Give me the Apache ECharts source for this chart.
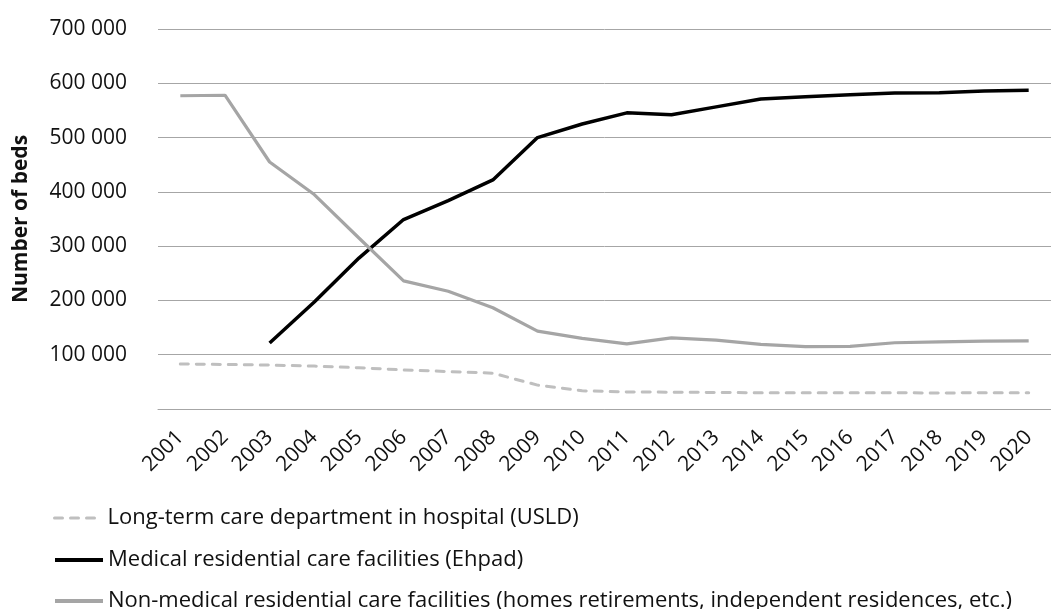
<!DOCTYPE html>
<html>
<head>
<meta charset="utf-8">
<script src="https://cdn.jsdelivr.net/npm/echarts@6/dist/echarts.min.js"></script>
<style>
  html, body { margin: 0; padding: 0; background: #fff; }
  #chart { width: 1051px; height: 609px; }
</style>
</head>
<body>
<div id="chart"></div>
<script>
const years = ["2001", "2002", "2003", "2004", "2005", "2006", "2007", "2008", "2009", "2010",
  "2011", "2012", "2013", "2014", "2015", "2016", "2017", "2018", "2019", "2020"];

// USLD beds
const usld = [83000, 82000, 81000, 79000, 76000, 72000, 69000, 66000, 44000, 33500,
  31500, 31000, 30500, 30000, 30000, 30000, 30000, 29500, 30000, 30000];

// Ehpad beds (no data before 2003)
const ehpad = [null, null, 121500, 197000, 278000, 349000, 384000, 422000, 500000, 525000,
  545500, 542000, 556500, 571000, 575000, 579000, 582000, 582500, 586000, 587000];

// non-medical residential care
const nonMedical = [577000, 578000, 455000, 395000, 315000, 236000, 217000, 186500, 143500, 130000,
  120000, 131000, 127000, 119000, 115000, 115500, 122000, 123500, 125000, 125500];

const seriesNames = [
  "Long-term care department in hospital (USLD)",
  "Medical residential care facilities (Ehpad)",
  "Non-medical residential care facilities (homes retirements, independent residences, etc.)"
];

const font = "'Open Sans', sans-serif";

// one legend per row, stacked like the original
const legendRow = (name, top, width) => ({
  orient: "vertical",
  left: 53,
  top: top,
  padding: 0,
  itemWidth: 48,
  itemHeight: 14,
  itemStyle: { color: "transparent", borderWidth: 0 },
  lineStyle: { width: width },
  textStyle: { fontFamily: font, fontSize: 22, color: "#111" },
  data: [name]
});

const option = {
  animation: false,
  grid: {
    left: 158,
    top: 29,
    width: 908,   // last band runs past the right edge like the original
    bottom: 200
  },
  legend: [
    legendRow(seriesNames[0], 507, 3),
    legendRow(seriesNames[1], 549, 4),
    legendRow(seriesNames[2], 590, 4)
  ],
  xAxis: {
    type: "category",
    data: years,
    boundaryGap: true,
    axisLine: { show: true, lineStyle: { color: "#a6a6a6", width: 1 } },
    axisTick: { show: false },
    axisLabel: {
      interval: 0,
      rotate: 45,
      margin: 25,
      fontFamily: font,
      fontSize: 21,
      color: "#111"
    }
  },
  yAxis: {
    type: "value",
    min: 0,
    max: 700000,
    interval: 100000,
    name: "Number of beds",
    nameLocation: "middle",
    nameGap: 126,
    nameTextStyle: { fontFamily: font, fontSize: 21, fontWeight: "bold", color: "#111" },
    axisLine: { show: false },
    axisTick: { show: false },
    splitLine: { lineStyle: { color: "#a6a6a6", width: 1 } },
    axisLabel: {
      margin: 31,
      fontFamily: font,
      fontSize: 21,
      color: "#111",
      formatter: function (v) {
        if (v === 0) return "";
        return String(v).replace(/\B(?=(\d{3})+(?!\d))/g, " ");
      }
    }
  },
  series: [
    {
      name: seriesNames[0],
      type: "line",
      symbol: "none",
      data: usld,
      itemStyle: { color: "#bfbfbf" },
      lineStyle: { color: "#bfbfbf", width: 3, type: [8, 8], cap: "round" }
    },
    {
      name: seriesNames[1],
      type: "line",
      symbol: "none",
      data: ehpad,
      itemStyle: { color: "#000" },
      lineStyle: { color: "#000", width: 3.5 }
    },
    {
      name: seriesNames[2],
      type: "line",
      symbol: "none",
      data: nonMedical,
      itemStyle: { color: "#a5a5a5" },
      lineStyle: { color: "#a5a5a5", width: 3.2 }
    }
  ]
};

const chart = echarts.init(document.getElementById("chart"));
chart.setOption(option);
</script>
</body>
</html>
